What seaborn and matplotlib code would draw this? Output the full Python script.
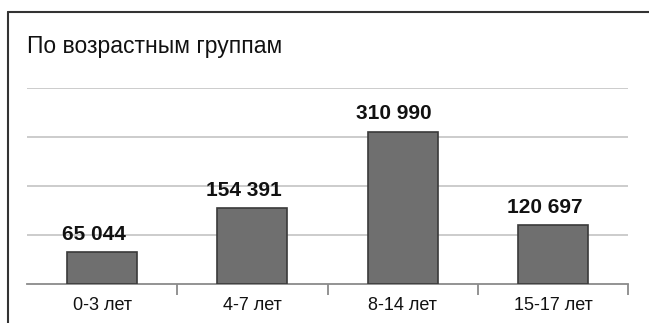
import matplotlib
matplotlib.use("Agg")
import matplotlib.pyplot as plt
import seaborn as sns
import pandas as pd
from matplotlib.lines import Line2D
from matplotlib.ticker import FixedLocator

categories = ["0-3 лет", "4-7 лет", "8-14 лет", "15-17 лет"]
values = [65044, 154391, 310990, 120697]
value_labels = ["65 044", "154 391", "310 990", "120 697"]
title = "По возрастным группам"

sns.set_theme(style="white")
plt.rcParams["font.family"] = ["Liberation Sans", "DejaVu Sans"]

df = pd.DataFrame({"group": categories, "value": values})

fig = plt.figure(figsize=(6.49, 3.23), dpi=100)
ax = fig.add_axes([27/649, 1-284/323, (628-27)/649, (284-88)/323])

sns.barplot(data=df, x="group", y="value", order=categories, color="#6f6f6f",
            saturation=1, width=0.467, edgecolor="#3a3a3a", linewidth=1.2, ax=ax, zorder=3)

ax.set_xlim(-0.5, 3.5)
ax.set_ylim(0, 400000)
ax.set_yticks([100000, 200000, 300000, 400000])
ax.set_yticklabels([])
ax.tick_params(axis="y", length=0)
ax.yaxis.grid(True, color="#c4c4c4", linewidth=1.2)
ax.set_axisbelow(True)
for s in ["top", "right", "left"]:
    ax.spines[s].set_visible(False)
ax.spines["bottom"].set_color("#8a8a8a")
ax.spines["bottom"].set_linewidth(1.3)
ax.set_xlabel("")
ax.set_ylabel("")
ax.xaxis.set_minor_locator(FixedLocator([0.5, 1.5, 2.5, 3.5]))
ax.tick_params(axis="x", which="major", length=0, pad=9, labelsize=13, labelcolor="#111111")
ax.tick_params(axis="x", which="minor", length=8, width=1.3, color="#8a8a8a", direction="out", bottom=True)

for i, (v, lab) in enumerate(zip(values, value_labels)):
    ax.annotate(lab, (i, v), xytext=(-6, 6), textcoords="offset points",
                ha="center", va="bottom", fontsize=15, fontweight="bold", color="#111111")

fig.text(27/649, 1-46.5/323, title, ha="left", va="center", fontsize=16.5, color="#111111")

fig.add_artist(Line2D([8/649, 8/649], [0, 1-11.5/323], transform=fig.transFigure,
                      color="#333333", linewidth=1.5))
fig.add_artist(Line2D([8/649, 1], [1-11.5/323, 1-11.5/323], transform=fig.transFigure,
                      color="#333333", linewidth=1.5))

fig.savefig("out.png", dpi=100)
